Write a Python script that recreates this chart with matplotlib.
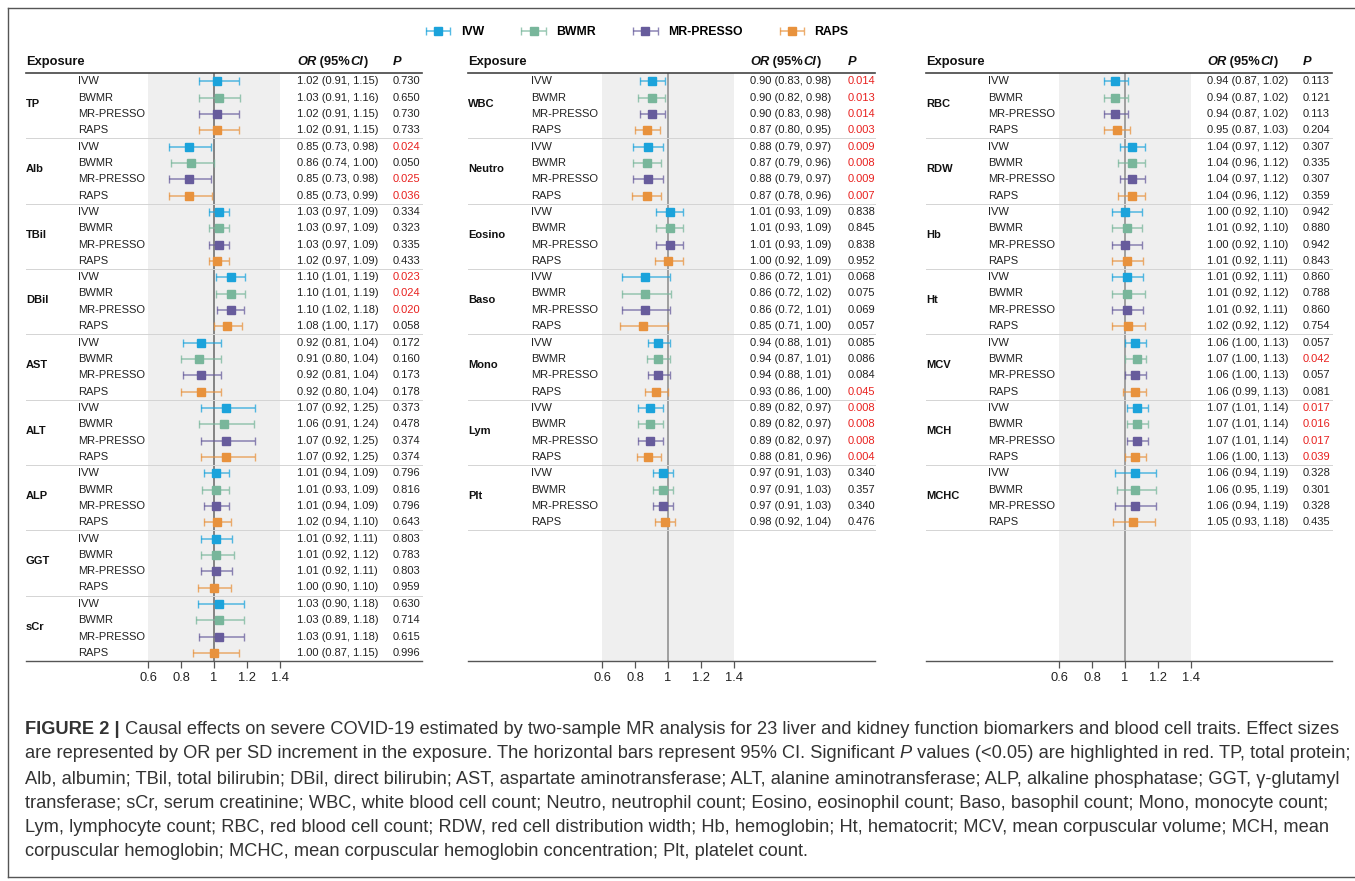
import matplotlib as mpl
mpl.use('Agg')
import matplotlib.pyplot as plt
from matplotlib.lines import Line2D
from matplotlib.colors import to_rgba
from matplotlib.container import ErrorbarContainer
from matplotlib.legend_handler import HandlerErrorbar
from matplotlib.transforms import blended_transform_factory

plt.rcParams['font.family'] = ['Liberation Sans', 'DejaVu Sans']

methods = ['IVW', 'BWMR', 'MR-PRESSO', 'RAPS']
colors = ['#1ba3db', '#78b69b', '#675c9c', '#e8923d']

# panel 1: liver / kidney biomarkers
liver_exp = ['TP', 'Alb', 'TBil', 'DBil', 'AST', 'ALT', 'ALP', 'GGT', 'sCr']
liver_or = [[1.02, 1.03, 1.02, 1.02], [0.85, 0.86, 0.85, 0.85], [1.03, 1.03, 1.03, 1.02],
            [1.10, 1.10, 1.10, 1.08], [0.92, 0.91, 0.92, 0.92], [1.07, 1.06, 1.07, 1.07],
            [1.01, 1.01, 1.01, 1.02], [1.01, 1.01, 1.01, 1.00], [1.03, 1.03, 1.03, 1.00]]
liver_lo = [[0.91, 0.91, 0.91, 0.91], [0.73, 0.74, 0.73, 0.73], [0.97, 0.97, 0.97, 0.97],
            [1.01, 1.01, 1.02, 1.00], [0.81, 0.80, 0.81, 0.80], [0.92, 0.91, 0.92, 0.92],
            [0.94, 0.93, 0.94, 0.94], [0.92, 0.92, 0.92, 0.90], [0.90, 0.89, 0.91, 0.87]]
liver_hi = [[1.15, 1.16, 1.15, 1.15], [0.98, 1.00, 0.98, 0.99], [1.09, 1.09, 1.09, 1.09],
            [1.19, 1.19, 1.18, 1.17], [1.04, 1.04, 1.04, 1.04], [1.25, 1.24, 1.25, 1.25],
            [1.09, 1.09, 1.09, 1.10], [1.11, 1.12, 1.11, 1.10], [1.18, 1.18, 1.18, 1.15]]
liver_p = [[0.730, 0.650, 0.730, 0.733], [0.024, 0.050, 0.025, 0.036], [0.334, 0.323, 0.335, 0.433],
           [0.023, 0.024, 0.020, 0.058], [0.172, 0.160, 0.173, 0.178], [0.373, 0.478, 0.374, 0.374],
           [0.796, 0.816, 0.796, 0.643], [0.803, 0.783, 0.803, 0.959], [0.630, 0.714, 0.615, 0.996]]

# panel 2: white cells and platelets
wbc_exp = ['WBC', 'Neutro', 'Eosino', 'Baso', 'Mono', 'Lym', 'Plt']
wbc_or = [[0.90, 0.90, 0.90, 0.87], [0.88, 0.87, 0.88, 0.87], [1.01, 1.01, 1.01, 1.00],
          [0.86, 0.86, 0.86, 0.85], [0.94, 0.94, 0.94, 0.93], [0.89, 0.89, 0.89, 0.88],
          [0.97, 0.97, 0.97, 0.98]]
wbc_lo = [[0.83, 0.82, 0.83, 0.80], [0.79, 0.79, 0.79, 0.78], [0.93, 0.93, 0.93, 0.92],
          [0.72, 0.72, 0.72, 0.71], [0.88, 0.87, 0.88, 0.86], [0.82, 0.82, 0.82, 0.81],
          [0.91, 0.91, 0.91, 0.92]]
wbc_hi = [[0.98, 0.98, 0.98, 0.95], [0.97, 0.96, 0.97, 0.96], [1.09, 1.09, 1.09, 1.09],
          [1.01, 1.02, 1.01, 1.00], [1.01, 1.01, 1.01, 1.00], [0.97, 0.97, 0.97, 0.96],
          [1.03, 1.03, 1.03, 1.04]]
wbc_p = [[0.014, 0.013, 0.014, 0.003], [0.009, 0.008, 0.009, 0.007], [0.838, 0.845, 0.838, 0.952],
         [0.068, 0.075, 0.069, 0.057], [0.085, 0.086, 0.084, 0.045], [0.008, 0.008, 0.008, 0.004],
         [0.340, 0.357, 0.340, 0.476]]

# panel 3: red cell traits
rbc_exp = ['RBC', 'RDW', 'Hb', 'Ht', 'MCV', 'MCH', 'MCHC']
rbc_or = [[0.94, 0.94, 0.94, 0.95], [1.04, 1.04, 1.04, 1.04], [1.00, 1.01, 1.00, 1.01],
          [1.01, 1.01, 1.01, 1.02], [1.06, 1.07, 1.06, 1.06], [1.07, 1.07, 1.07, 1.06],
          [1.06, 1.06, 1.06, 1.05]]
rbc_lo = [[0.87, 0.87, 0.87, 0.87], [0.97, 0.96, 0.97, 0.96], [0.92, 0.92, 0.92, 0.92],
          [0.92, 0.92, 0.92, 0.92], [1.00, 1.00, 1.00, 0.99], [1.01, 1.01, 1.01, 1.00],
          [0.94, 0.95, 0.94, 0.93]]
rbc_hi = [[1.02, 1.02, 1.02, 1.03], [1.12, 1.12, 1.12, 1.12], [1.10, 1.10, 1.10, 1.11],
          [1.11, 1.12, 1.11, 1.12], [1.13, 1.13, 1.13, 1.13], [1.14, 1.14, 1.14, 1.13],
          [1.19, 1.19, 1.19, 1.18]]
rbc_p = [[0.113, 0.121, 0.113, 0.204], [0.307, 0.335, 0.307, 0.359], [0.942, 0.880, 0.942, 0.843],
         [0.860, 0.788, 0.860, 0.754], [0.057, 0.042, 0.057, 0.081], [0.017, 0.016, 0.017, 0.039],
         [0.328, 0.301, 0.328, 0.435]]

xticks = [0.6, 0.8, 1.0, 1.2, 1.4]
xticklabels = ['0.6', '0.8', '1', '1.2', '1.4']

W, H = 1355, 881
fig = plt.figure(figsize=(W / 100, H / 100), dpi=100)


def fx(px):
    return px / W


def fy(py):
    return 1 - py / H


renderer = fig.canvas.get_renderer()


def pieces_text(x, y, pieces, size, color, transform=None):
    # draws consecutive text runs with different styles on one line
    for s, weight, style in pieces:
        if transform is None:
            t = fig.text(fx(x), fy(y), s, fontsize=size, fontweight=weight, fontstyle=style,
                         color=color, va='center', ha='left')
        else:
            t = fig.text(fx(x), y, s, fontsize=size, fontweight=weight, fontstyle=style,
                         color=color, va='center', ha='left', transform=transform)
        x += t.get_window_extent(renderer).width
    return x


# panel pixel layout: left, method col, 0.6 pos, 1.4 pos, OR col, P col, right
layouts = [
    dict(left=26, meth=78, x06=148, x14=280, orx=297, px=393, right=422, vcol='#666666'),
    dict(left=468, meth=531, x06=602, x14=734, orx=750, px=848, right=875, vcol='#8a8a8a'),
    dict(left=926, meth=988, x06=1059, x14=1191, orx=1207, px=1303, right=1332, vcol='#8a8a8a'),
]
panels = [
    (liver_exp, liver_or, liver_lo, liver_hi, liver_p),
    (wbc_exp, wbc_or, wbc_lo, wbc_hi, wbc_p),
    (rbc_exp, rbc_or, rbc_lo, rbc_hi, rbc_p),
]

top_px, bot_px = 73, 661
nrows = 36
handles = []

for k, (lay, (exps, ors, los, his, ps)) in enumerate(zip(layouts, panels)):
    ax = fig.add_axes([fx(lay['x06']), fy(bot_px), (lay['x14'] - lay['x06']) / W,
                       (bot_px - top_px) / H])
    ax.set_facecolor('#efefef')
    ax.set_xlim(0.6, 1.4)
    ax.set_ylim(nrows - 0.5, -0.5)
    for sp in ax.spines.values():
        sp.set_visible(False)
    ax.set_yticks([])
    ax.set_xticks(xticks)
    ax.set_xticklabels(xticklabels)
    ax.tick_params(axis='x', length=5, width=0.9, color='#555555', labelsize=9.3,
                   pad=3, labelcolor='#222222')
    ax.axvline(1.0, color=lay['vcol'], lw=1.1, zorder=1)

    tr = blended_transform_factory(fig.transFigure, ax.transData)
    ng = len(exps)

    for m in range(4):
        rows = [4 * g + m for g in range(ng)]
        est = [ors[g][m] for g in range(ng)]
        lo = [ors[g][m] - los[g][m] for g in range(ng)]
        hi = [his[g][m] - ors[g][m] for g in range(ng)]
        eb = ax.errorbar(est, rows, xerr=[lo, hi], fmt='s', color=colors[m], ms=6,
                         ecolor=to_rgba(colors[m], 0.75), elinewidth=1.1, capsize=2.6,
                         capthick=1.0, zorder=3, label=methods[m])
        if k == 0:
            handles.append(eb)

    # table text
    for g in range(ng):
        ax.text(fx(lay['left']), 4 * g + 1.4, exps[g], transform=tr, fontsize=8,
                fontweight='bold', va='center', ha='left', color='#111111')
        for m in range(4):
            r = 4 * g + m
            ax.text(fx(lay['meth']), r, methods[m], transform=tr, fontsize=8,
                    va='center', ha='left', color='#222222')
            s = '%.2f (%.2f, %.2f)' % (ors[g][m], los[g][m], his[g][m])
            ax.text(fx(lay['orx']), r, s, transform=tr, fontsize=8, va='center',
                    ha='left', color='#222222')
            p = ps[g][m]
            ax.text(fx(lay['px']), r, '%.3f' % p, transform=tr, fontsize=8, va='center',
                    ha='left', color='#e8211f' if p < 0.05 else '#222222')
        # separator under each group
        if 4 * g + 3.5 < nrows - 0.5:
            ax.plot([fx(lay['left']), fx(lay['right'])], [4 * g + 3.5] * 2, transform=tr,
                    color='#d4d4d4', lw=0.7, clip_on=False, zorder=2)

    # header
    hy = -1.15
    ax.text(fx(lay['left']), hy, 'Exposure', transform=tr, fontsize=9.3, fontweight='bold',
            va='center', ha='left', color='#111111')
    pieces_text(lay['orx'], hy, [('OR', 'bold', 'italic'), (' (95%', 'bold', 'normal'),
                                 ('CI', 'bold', 'italic'), (')', 'bold', 'normal')],
                9.3, '#111111', transform=tr)
    ax.text(fx(lay['px']), hy, 'P', transform=tr, fontsize=9.3, fontweight='bold',
            fontstyle='italic', va='center', ha='left', color='#111111')
    ax.plot([fx(lay['left']), fx(lay['right'])], [-0.5, -0.5], transform=tr,
            color='#444444', lw=1.2, clip_on=False, zorder=4)
    ax.plot([fx(lay['left']), fx(lay['right'])], [nrows - 0.5] * 2, transform=tr,
            color='#555555', lw=1.0, clip_on=False, zorder=4)

# legend
leg = fig.legend(handles=handles, labels=methods, loc='center', ncol=4,
                 bbox_to_anchor=(fx(637), fy(32)), frameon=False,
                 prop={'size': 8.8, 'weight': 'bold'}, handlelength=2.1,
                 handletextpad=0.8, columnspacing=3.0,
                 handler_map={ErrorbarContainer: HandlerErrorbar(xerr_size=1.0)})

# outer frame
for xs, ys in [([8, 8], [8, 877]), ([8, W], [8, 8]), ([8, W], [877, 877])]:
    fig.add_artist(Line2D([fx(v) for v in xs], [fy(v) for v in ys],
                          transform=fig.transFigure, color='#555555', lw=1.0))

# caption
cap_lines = [
    [('FIGURE 2 |', 'bold', 'normal'),
     (' Causal effects on severe COVID-19 estimated by two-sample MR analysis for 23 liver and '
      'kidney function biomarkers and blood cell traits. Effect sizes', 'normal', 'normal')],
    [('are represented by OR per SD increment in the exposure. The horizontal bars represent '
      '95% CI. Significant ', 'normal', 'normal'), ('P', 'normal', 'italic'),
     (' values (<0.05) are highlighted in red. TP, total protein;', 'normal', 'normal')],
    [('Alb, albumin; TBil, total bilirubin; DBil, direct bilirubin; AST, aspartate '
      'aminotransferase; ALT, alanine aminotransferase; ALP, alkaline phosphatase; GGT, '
      'γ-glutamyl', 'normal', 'normal')],
    [('transferase; sCr, serum creatinine; WBC, white blood cell count; Neutro, neutrophil '
      'count; Eosino, eosinophil count; Baso, basophil count; Mono, monocyte count;',
      'normal', 'normal')],
    [('Lym, lymphocyte count; RBC, red blood cell count; RDW, red cell distribution width; '
      'Hb, hemoglobin; Ht, hematocrit; MCV, mean corpuscular volume; MCH, mean',
      'normal', 'normal')],
    [('corpuscular hemoglobin; MCHC, mean corpuscular hemoglobin concentration; Plt, '
      'platelet count.', 'normal', 'normal')],
]
cap_y = [729, 754, 779, 803, 828, 852]

# fit caption size so the first line spans the same width as the reference
tmp = [fig.text(0, 0, s, fontsize=12, fontweight=w, fontstyle=st) for s, w, st in cap_lines[0]]
w12 = sum(t.get_window_extent(renderer).width for t in tmp)
for t in tmp:
    t.remove()
cap_size = 12 * (1340 - 25) / w12

for line, y in zip(cap_lines, cap_y):
    pieces_text(25, y, line, cap_size, '#333333')

fig.savefig('out.png', dpi=100)
